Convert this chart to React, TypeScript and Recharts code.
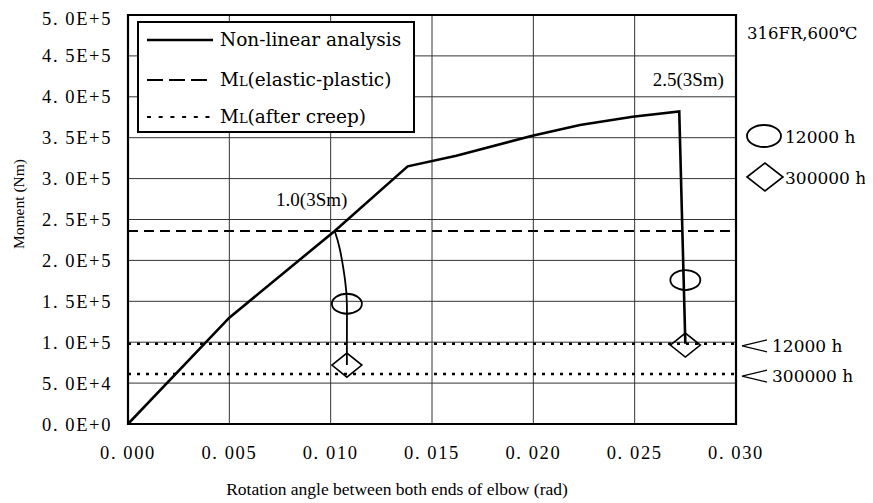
import React from 'react'
import {
  ComposedChart,
  Line,
  Scatter,
  XAxis,
  YAxis,
  CartesianGrid,
  ReferenceLine,
  ReferenceArea,
  ReferenceDot,
  Legend,
  Label
} from 'recharts'

// rotation angle (rad) and moment (Nm)
const nonlinearX = [0, 0.005, 0.0102, 0.0138, 0.0162, 0.0199, 0.0223, 0.0249, 0.0272, 0.0275]
const nonlinearM = [0, 130000, 236000, 315000, 328000, 352000, 365500, 375700, 382000, 98000]

// relaxation from the 1.0(3Sm) point
const relaxX = [0.0102, 0.01046, 0.01071, 0.0108, 0.0108, 0.0108]
const relaxM = [236000, 213000, 176000, 147000, 103000, 72000]

const mlElasticPlastic = 236000
const mlAfterCreep = [98000, 61000]
const creepLabels = ['12000 h', '300000 h']

const mark12000X = [0.0108, 0.0275]
const mark12000M = [147000, 176000]
const mark300000X = [0.0108, 0.0275]
const mark300000M = [72000, 96500]

const annotX = [0.0102, 0.0272]
const annotM = [236000, 382000]
const annotText = ['1.0(3Sm)', '2.5(3Sm)']
const annotDx = [-23, 9]

const xTicks = [0, 0.005, 0.01, 0.015, 0.02, 0.025, 0.03]
const xTickLabels = ['0. 000', '0. 005', '0. 010', '0. 015', '0. 020', '0. 025', '0. 030']
const yTicks = [0, 50000, 100000, 150000, 200000, 250000, 300000, 350000, 400000, 450000, 500000]
const yTickLabels = ['0. 0E+0', '5. 0E+4', '1. 0E+5', '1. 5E+5', '2. 0E+5', '2. 5E+5', '3. 0E+5', '3. 5E+5', '4. 0E+5', '4. 5E+5', '5. 0E+5']

const nonlinearData = nonlinearX.map((x, i) => ({ x, m: nonlinearM[i] }))
const relaxData = relaxX.map((x, i) => ({ x, m: relaxM[i] }))
const mark12000Data = mark12000X.map((x, i) => ({ x, m: mark12000M[i] }))
const mark300000Data = mark300000X.map((x, i) => ({ x, m: mark300000M[i] }))

const SERIF = '"Liberation Serif", "Times New Roman", serif'
const WIDE_SERIF = '"DejaVu Serif", serif'

const ellipseShape = (p: any) => (
  <ellipse cx={p.cx} cy={p.cy} rx={15} ry={10} fill="none" stroke="#000" strokeWidth={1.8} />
)

const diamondShape = (p: any) => (
  <polygon
    points={`${p.cx - 15},${p.cy} ${p.cx},${p.cy - 12} ${p.cx + 15},${p.cy} ${p.cx},${p.cy + 12}`}
    fill="none"
    stroke="#000"
    strokeWidth={1.6}
  />
)

function LegendBox() {
  const rows = [
    { m: false, text: 'Non-linear analysis', dash: undefined, w: 2.5 },
    { m: true, text: '(elastic-plastic)', dash: '16 6', w: 2 },
    { m: true, text: '(after creep)', dash: '4 7.7', w: 2 }
  ]
  const ys = [17, 57, 94]
  return (
    <div style={{ width: 278, height: 112, boxSizing: 'border-box', border: '2px solid #000', background: '#fff' }}>
      <svg width={274} height={108} style={{ display: 'block' }}>
        {rows.map((r, i) => (
          <g key={i}>
            <line x1={8} x2={74} y1={ys[i]} y2={ys[i]} stroke="#000" strokeWidth={r.w} strokeDasharray={r.dash} />
            <text x={81} y={ys[i]} dy="0.35em" fontFamily={WIDE_SERIF} fontSize={18.5} fill="#000">
              {r.m ? (
                <>
                  M<tspan fontSize={13}>L</tspan>
                  {r.text}
                </>
              ) : (
                r.text
              )}
            </text>
          </g>
        ))}
      </svg>
    </div>
  )
}

function CreepLabel(props: any) {
  const { viewBox, value } = props
  const x = viewBox.x + viewBox.width + 6
  const y = viewBox.y + 2
  return (
    <g>
      <polyline points={`${x + 25},${y - 6} ${x},${y} ${x + 25},${y + 6}`} fill="none" stroke="#000" strokeWidth={1.2} />
      <text x={x + 30} y={y} dy="0.35em" fontFamily={WIDE_SERIF} fontSize={17} fill="#000">
        {value}
      </text>
    </g>
  )
}

function AnnotLabel(props: any) {
  const { viewBox, value, dx } = props
  const cx = viewBox.x + viewBox.width / 2
  const cy = viewBox.y + viewBox.height / 2
  return (
    <text x={cx + dx} y={cy - 32} dy="0.35em" textAnchor="middle" fontFamily={SERIF} fontSize={19} fill="#000">
      {value}
    </text>
  )
}

const tickStyle = { fill: '#000', fontSize: 18.5, fontFamily: SERIF, letterSpacing: 1.6 }

export default function App() {
  return (
    <div style={{ position: 'relative', width: 865, height: 495, background: '#fff' }}>
      <ComposedChart width={865} height={495} margin={{ top: 7, right: 137, left: 8, bottom: 29 }}>
        <CartesianGrid stroke="#333" strokeWidth={1} />
        <XAxis
          dataKey="x"
          type="number"
          domain={[0, 0.03]}
          ticks={xTicks}
          allowDataOverflow
          height={50}
          axisLine={false}
          tickLine={false}
          tickSize={0}
          tickMargin={22}
          tick={tickStyle}
          tickFormatter={(v: number) => xTickLabels[xTicks.indexOf(v)]}
        >
          <Label
            content={({ viewBox }: any) => (
              <text
                x={viewBox.x + viewBox.width / 2 - 35}
                y={481}
                textAnchor="middle"
                dominantBaseline="central"
                fontFamily={SERIF}
                fontSize={17.5}
                fill="#000"
              >
                Rotation angle between both ends of elbow (rad)
              </text>
            )}
          />
        </XAxis>
        <YAxis
          type="number"
          domain={[0, 500000]}
          ticks={yTicks}
          allowDataOverflow
          width={112}
          axisLine={false}
          tickLine={false}
          tickSize={0}
          tickMargin={16}
          tick={tickStyle}
          tickFormatter={(v: number) => yTickLabels[yTicks.indexOf(v)]}
        />

        <ReferenceLine y={mlElasticPlastic} stroke="#000" strokeWidth={2} strokeDasharray="10 6" />
        {mlAfterCreep.map((v, i) => (
          <ReferenceLine
            key={i}
            y={v}
            stroke="#000"
            strokeWidth={2.5}
            strokeDasharray="3 6"
            label={<CreepLabel value={creepLabels[i]} />}
          />
        ))}

        <Line data={nonlinearData} dataKey="m" type="linear" stroke="#000" strokeWidth={2.6} dot={false} isAnimationActive={false} legendType="none" />
        <Line data={relaxData} dataKey="m" type="natural" stroke="#000" strokeWidth={1.8} dot={false} isAnimationActive={false} legendType="none" />
        <Scatter data={mark12000Data} dataKey="m" shape={ellipseShape} isAnimationActive={false} legendType="none" />
        <Scatter data={mark300000Data} dataKey="m" shape={diamondShape} isAnimationActive={false} legendType="none" />

        {annotX.map((x, i) => (
          <ReferenceDot
            key={i}
            x={x}
            y={annotM[i]}
            r={0}
            fill="none"
            stroke="none"
            label={<AnnotLabel value={annotText[i]} dx={annotDx[i]} />}
          />
        ))}

        <ReferenceArea x1={0} x2={0.03} y1={0} y2={500000} fill="none" fillOpacity={0} stroke="#000" strokeWidth={2.2} />

        <Legend
          layout="vertical"
          align="center"
          verticalAlign="middle"
          wrapperStyle={{ left: 129, top: 13, width: 278, height: 112 }}
          content={() => <LegendBox />}
        />
      </ComposedChart>

      {/* y axis title, drawn outside the chart svg */}
      <svg width={30} height={495} style={{ position: 'absolute', left: 0, top: 0 }}>
        <text
          transform="translate(10, 196) rotate(-90)"
          textAnchor="middle"
          dominantBaseline="central"
          fontFamily={SERIF}
          fontSize={15.5}
          fill="#000"
        >
          Moment (Nm)
        </text>
      </svg>

      <svg width={135} height={180} style={{ position: 'absolute', left: 730, top: 10 }}>
        <text x={9} y={15} dy="0.35em" fontFamily={WIDE_SERIF} fontSize={16.5} fill="#000">
          316FR,600℃
        </text>
        <ellipse cx={26} cy={118} rx={17} ry={11} fill="none" stroke="#000" strokeWidth={1.8} />
        <text x={47} y={119} dy="0.35em" fontFamily={WIDE_SERIF} fontSize={17} fill="#000">
          {creepLabels[0]}
        </text>
        <polygon points="9,159 27,145 45,159 27,173" fill="none" stroke="#000" strokeWidth={1.6} />
        <text x={47} y={160} dy="0.35em" fontFamily={WIDE_SERIF} fontSize={17} fill="#000">
          {creepLabels[1]}
        </text>
      </svg>
    </div>
  )
}
